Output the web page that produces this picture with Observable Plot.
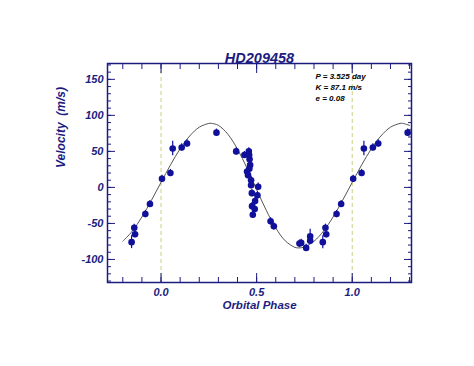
<!DOCTYPE html>
<html><head><meta charset="utf-8">
<script src="https://cdn.jsdelivr.net/npm/d3@7"></script>
<script src="https://cdn.jsdelivr.net/npm/@observablehq/plot@0.6"></script>
<style>html,body{margin:0;padding:0;background:#fff;}</style>
</head><body><div id="chart"></div>
<script>
// Observed radial velocities (orbital phase in [0,1))
const phase = [0.005,0.049,0.061,0.108,0.136,0.290,0.393,0.436,0.459,0.461,0.463,0.466,0.462,0.450,0.455,0.471,0.471,0.508,0.475,0.504,0.492,0.476,0.490,0.480,0.573,0.590,0.724,0.733,0.759,0.780,0.780,0.846,0.860,0.864,0.918,0.942];
const velocity = [12,20,54,55.5,61,76,50,45,50,45,39,31,26,22,17,10,3,1,-8,-11,-19,-26,-30,-38,-47,-54,-78,-77,-84,-68,-74,-76,-56,-65,-37,-23];
const errorBar = [5,5,10,5,5,5,5,5,5,5,5,5,5,5,5,5,5,5,5,5,5,5,5,5,5,5,5,5,5,10,5,9,5,5,5,5];

// Fitted orbit curve
const curvePhase = [-0.20,-0.15,-0.10,-0.05,0.00,0.05,0.10,0.15,0.20,0.25,0.262,0.30,0.35,0.40,0.45,0.50,0.55,0.60,0.65,0.70,0.72,0.75,0.80,0.85,0.90,0.95,1.00,1.05,1.10,1.15,1.20,1.25,1.262,1.30];
const curveVelocity = [-74.8,-60.6,-41,-17.8,7,31.5,53.6,71.4,83.6,88.8,89,86.1,73.7,53.1,26.5,-2.9,-31.6,-56.3,-74.2,-83.2,-84,-82.7,-74.8,-60.6,-41,-17.8,7,31.5,53.6,71.4,83.6,88.8,89,86.1];

const xTickLabels = [0.0, 0.5, 1.0];
const yTickLabels = [-100, -50, 0, 50, 100, 150];
const markerPhases = [0, 1];
const title = "HD209458";
const annotation = ["P = 3.525 day", "K = 87.1 m/s", "e = 0.08"];

// fold points into displayed phase window
const pts = [];
phase.forEach((p, i) => {
  for (const s of [-1, 0, 1]) {
    const q = p + s;
    if (q >= -0.2 && q <= 1.3) pts.push({phase: q, v: velocity[i], e: errorBar[i]});
  }
});
const curve = curvePhase.map((p, i) => ({phase: p, v: curveVelocity[i]}));

const xMinor = d3.range(-2, 14).map(d => d / 10);
const yMinor = d3.range(-13, 18).map(d => d * 10);
const navy = "#1c1c80";
const dotColor = "#10109a";
const blank = () => "";

const chart = Plot.plot({
  width: 474, height: 366,
  marginLeft: 107, marginRight: 63, marginTop: 63, marginBottom: 84,
  style: {fontFamily: '"Liberation Sans", Arial, sans-serif', fontStyle: "italic", fontWeight: "bold", fontSize: "11px", color: navy, background: "#fff"},
  x: {domain: [-0.28, 1.31]},
  y: {domain: [-132, 172]},
  marks: [
    Plot.ruleX(markerPhases, {stroke: "#c8d080", strokeDasharray: "4,3", strokeWidth: 1}),
    Plot.line(curve, {x: "phase", y: "v", curve: "catmull-rom", stroke: "#555", strokeWidth: 1}),
    Plot.ruleX(pts, {x: "phase", y1: d => d.v - d.e, y2: d => d.v + d.e, stroke: dotColor, strokeWidth: 1.2}),
    Plot.dot(pts, {x: "phase", y: "v", r: 3.3, fill: dotColor, stroke: null}),
    Plot.axisX(xMinor, {anchor: "bottom", tickSize: -5, tickFormat: blank, label: null}),
    Plot.axisX(xTickLabels, {anchor: "bottom", tickSize: -9, tickPadding: 15, tickFormat: d3.format(".1f"), label: null}),
    Plot.axisX(xMinor, {anchor: "top", tickSize: -5, tickFormat: blank, label: null}),
    Plot.axisX(xTickLabels, {anchor: "top", tickSize: -9, tickFormat: blank, label: null}),
    Plot.axisY(yMinor, {anchor: "left", tickSize: -4, tickFormat: blank, label: null}),
    Plot.axisY(yTickLabels, {anchor: "left", tickSize: -8, tickPadding: 12, tickFormat: d => d, label: null}),
    Plot.axisY(yMinor, {anchor: "right", tickSize: -4, tickFormat: blank, label: null}),
    Plot.axisY(yTickLabels, {anchor: "right", tickSize: -8, tickFormat: blank, label: null}),
    Plot.frame({stroke: navy, strokeWidth: 1.5}),
    Plot.text([title], {frameAnchor: "top", dy: -11, fontSize: 14.5}),
    Plot.text(["Orbital Phase"], {frameAnchor: "bottom", dy: 26, fontSize: 11.5}),
    Plot.text(["Velocity\u00a0 (m/s)"], {frameAnchor: "left", rotate: -90, dx: -46, dy: -5, fontSize: 12}),
    Plot.text([annotation.join("\n")], {frameAnchor: "top-left", dx: 208, dy: 8, textAnchor: "start", lineAnchor: "top", fontSize: 8, lineHeight: 1.38, fill: "#000"})
  ]
});
document.getElementById("chart").appendChild(chart);
</script>
</body></html>
